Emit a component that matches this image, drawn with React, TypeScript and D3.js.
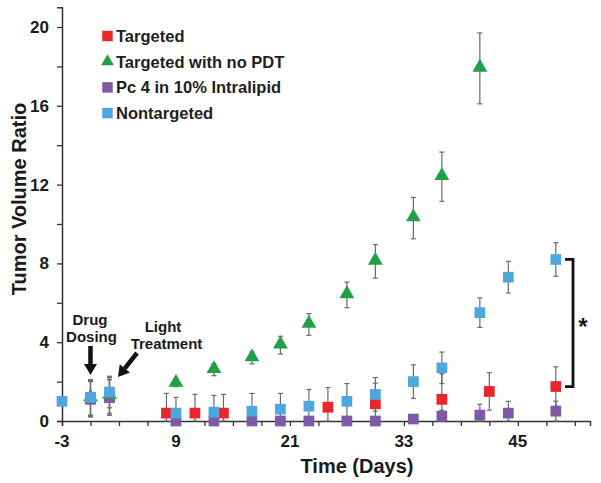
import React, { useEffect, useRef } from 'react';
import * as d3 from 'd3';

// Days and tumor volume ratios
const targetedDays = [0, 2, 8, 11, 14, 25, 30, 37, 42, 49];
const targetedVals = [1.15, 1.2, 0.4, 0.4, 0.4, 0.7, 0.87, 1.1, 1.5, 1.75];
const targetedErr = [0.9, 0.9, 1.0, 0.95, 0.95, 1.0, 1.05, 1.3, 0.95, 1.0];

const noPdtDays = [0, 2, 9, 13, 17, 20, 23, 27, 30, 34, 37, 41];
const noPdtVals = [1.15, 1.3, 1.9, 2.6, 3.2, 3.85, 4.9, 6.4, 8.1, 10.3, 12.4, 17.9];
const noPdtErr = [0.9, 0.9, 0.15, 0.3, 0.3, 0.45, 0.55, 0.65, 0.85, 1.05, 1.25, 1.8];

const pc4Days = [0, 2, 9, 13, 17, 20, 23, 27, 30, 34, 37, 41, 44, 49];
const pc4Vals = [1.1, 1.2, 0, 0, 0, 0, 0, 0, 0, 0.1, 0.25, 0.3, 0.4, 0.5];
const pc4Err = [0.9, 0.9, 0, 0, 0, 0, 0, 0, 0, 0.1, 0.3, 0.55, 0.6, 0.5];

const nonTargetedDays = [-3, 0, 2, 9, 13, 17, 20, 23, 27, 30, 34, 37, 41, 44, 49];
const nonTargetedVals = [1.0, 1.2, 1.47, 0.4, 0.45, 0.5, 0.6, 0.75, 1.0, 1.35, 2.0, 2.7, 5.5, 7.3, 8.2];
const nonTargetedErr = [0, 0.9, 0.8, 0.8, 0.85, 0.9, 0.8, 0.85, 0.9, 0.85, 0.85, 0.8, 0.75, 0.8, 0.85];

const xTickLabels = [-3, 9, 21, 33, 45];
const yTickLabels = [0, 4, 8, 12, 16, 20];

const seriesNames = ['Targeted', 'Targeted with no PDT', 'Pc 4 in 10% Intralipid', 'Nontargeted'];
const seriesColors = ['#e8262b', '#1fa146', '#7c5aa6', '#4fa8dd'];
const seriesShapes = ['square', 'triangle', 'square', 'square'];

const FONT = '"Liberation Sans", Arial, sans-serif';

const TumorChart: React.FC = () => {
  const svgRef = useRef<SVGSVGElement | null>(null);

  useEffect(() => {
    const svg = d3.select(svgRef.current);
    svg.selectAll('*').remove();

    const x = d3.scaleLinear().domain([-3, 52.6]).range([62, 590]);
    const y = d3.scaleLinear().domain([0, 21]).range([421, 7.3]);

    const series = [
      { days: targetedDays, vals: targetedVals, err: targetedErr },
      { days: noPdtDays, vals: noPdtVals, err: noPdtErr },
      { days: pc4Days, vals: pc4Vals, err: pc4Err },
      { days: nonTargetedDays, vals: nonTargetedVals, err: nonTargetedErr },
    ].map((s, i) => ({
      ...s,
      name: seriesNames[i],
      color: seriesColors[i],
      shape: seriesShapes[i],
    }));

    // axes
    const axisColor = '#333';
    const xAxis = d3.axisBottom(x).tickValues(d3.range(-3, 52, 3)).tickSize(5).tickFormat(() => '');
    svg.append('g').attr('transform', `translate(0,${y(0)})`).call(xAxis)
      .call(g => g.select('.domain').attr('stroke', axisColor).attr('stroke-width', 1.5))
      .call(g => g.selectAll('.tick line').attr('stroke', axisColor).attr('stroke-width', 1.3));

    const yAxis = d3.axisLeft(y).tickValues(d3.range(0, 21, 2)).tickSize(5).tickFormat(() => '');
    svg.append('g').attr('transform', `translate(${x(-3)},0)`).call(yAxis)
      .call(g => g.select('.domain').attr('stroke', axisColor).attr('stroke-width', 1.5))
      .call(g => g.selectAll('.tick line').attr('stroke', axisColor).attr('stroke-width', 1.3));

    svg.append('g').selectAll('text').data(xTickLabels).enter().append('text')
      .attr('x', d => x(d)).attr('y', 447)
      .attr('text-anchor', 'middle')
      .attr('font-family', FONT).attr('font-weight', 'bold').attr('font-size', 17)
      .attr('fill', '#1a1a1a')
      .text(d => d);

    svg.append('g').selectAll('text').data(yTickLabels).enter().append('text')
      .attr('x', 49).attr('y', d => y(d) + 6)
      .attr('text-anchor', 'end')
      .attr('font-family', FONT).attr('font-weight', 'bold').attr('font-size', 17)
      .attr('fill', '#1a1a1a')
      .text(d => d);

    svg.append('text')
      .attr('x', 357).attr('y', 473)
      .attr('text-anchor', 'middle')
      .attr('font-family', FONT).attr('font-weight', 'bold').attr('font-size', 20)
      .attr('fill', '#1a1a1a')
      .text('Time (Days)');

    svg.append('text')
      .attr('transform', 'translate(26,199) rotate(-90)')
      .attr('text-anchor', 'middle')
      .attr('font-family', FONT).attr('font-weight', 'bold').attr('font-size', 20)
      .attr('fill', '#1a1a1a')
      .text('Tumor Volume Ratio');

    // error bars for all series first
    const errG = svg.append('g').attr('stroke', '#6b6b6b').attr('stroke-width', 1.2);
    series.forEach(s => {
      s.days.forEach((d, i) => {
        const e = s.err[i];
        if (!e) return;
        const top = y(s.vals[i] + e);
        const bot = y(Math.max(0, s.vals[i] - e));
        errG.append('line').attr('x1', x(d)).attr('x2', x(d)).attr('y1', top).attr('y2', bot);
        errG.append('line').attr('x1', x(d) - 2.5).attr('x2', x(d) + 2.5).attr('y1', top).attr('y2', top);
        errG.append('line').attr('x1', x(d) - 2.5).attr('x2', x(d) + 2.5).attr('y1', bot).attr('y2', bot);
      });
    });

    const sq = d3.symbol().type(d3.symbolSquare).size(115);
    const tri = d3.symbol().type(d3.symbolTriangle).size(95);

    // markers: red, purple, green, blue (blue on top)
    [0, 2, 1, 3].forEach(k => {
      const s = series[k];
      svg.append('g').selectAll('path').data(s.days).enter().append('path')
        .attr('d', s.shape === 'triangle' ? tri() : sq())
        .attr('transform', (d, i) => `translate(${x(d)},${y(s.vals[i]) + (s.shape === 'triangle' ? -1 : 0)})`)
        .attr('fill', s.color);
    });

    // legend
    const legend = svg.append('g');
    series.forEach((s, i) => {
      const cy = 36 + i * 25.7;
      legend.append('path')
        .attr('d', s.shape === 'triangle' ? d3.symbol().type(d3.symbolTriangle).size(70)() : d3.symbol().type(d3.symbolSquare).size(110)())
        .attr('transform', `translate(107.5,${cy})`)
        .attr('fill', s.color);
      legend.append('text')
        .attr('x', 116).attr('y', cy + 6)
        .attr('font-family', FONT).attr('font-weight', 'bold').attr('font-size', 16.5)
        .attr('fill', '#1e1e1e')
        .text(s.name);
    });

    // annotations
    const annot = (txt: string, cx: number, by: number) =>
      svg.append('text').attr('x', cx).attr('y', by).attr('text-anchor', 'middle')
        .attr('font-family', FONT).attr('font-weight', 'bold').attr('font-size', 15)
        .attr('fill', '#1a1a1a').text(txt);
    annot('Drug', 90, 324.5);
    annot('Dosing', 91.5, 341.5);
    annot('Light', 163, 331.5);
    annot('Treatment', 166.5, 348.5);

    const arrow = (x1: number, y1: number, x2: number, y2: number) => {
      const ang = Math.atan2(y2 - y1, x2 - x1);
      const headLen = 11;
      const headW = 6.5;
      const bx = x2 - headLen * Math.cos(ang);
      const by = y2 - headLen * Math.sin(ang);
      svg.append('line').attr('x1', x1).attr('y1', y1).attr('x2', bx).attr('y2', by)
        .attr('stroke', '#111').attr('stroke-width', 4.5);
      const px = -Math.sin(ang) * headW;
      const py = Math.cos(ang) * headW;
      svg.append('path')
        .attr('d', `M${x2},${y2}L${bx + px},${by + py}L${bx - px},${by - py}Z`)
        .attr('fill', '#111');
    };
    arrow(x(0), 346, x(0), 375);
    arrow(137, 353, 118, 377);

    // significance bracket
    const bx = 573;
    svg.append('path')
      .attr('d', `M${bx - 8},${y(8.2)}H${bx}V${y(1.75)}H${bx - 8}`)
      .attr('fill', 'none').attr('stroke', '#111').attr('stroke-width', 2.8);
    svg.append('text')
      .attr('x', 583).attr('y', 335).attr('text-anchor', 'middle')
      .attr('font-family', FONT).attr('font-weight', 'bold').attr('font-size', 24)
      .attr('fill', '#1a1a1a').text('*');
  }, []);

  return (
    <svg
      ref={svgRef}
      width={601}
      height={483}
      style={{ position: 'absolute', left: 0, top: 0, background: '#fff' }}
    />
  );
};

export default function App() {
  return <TumorChart />;
}
